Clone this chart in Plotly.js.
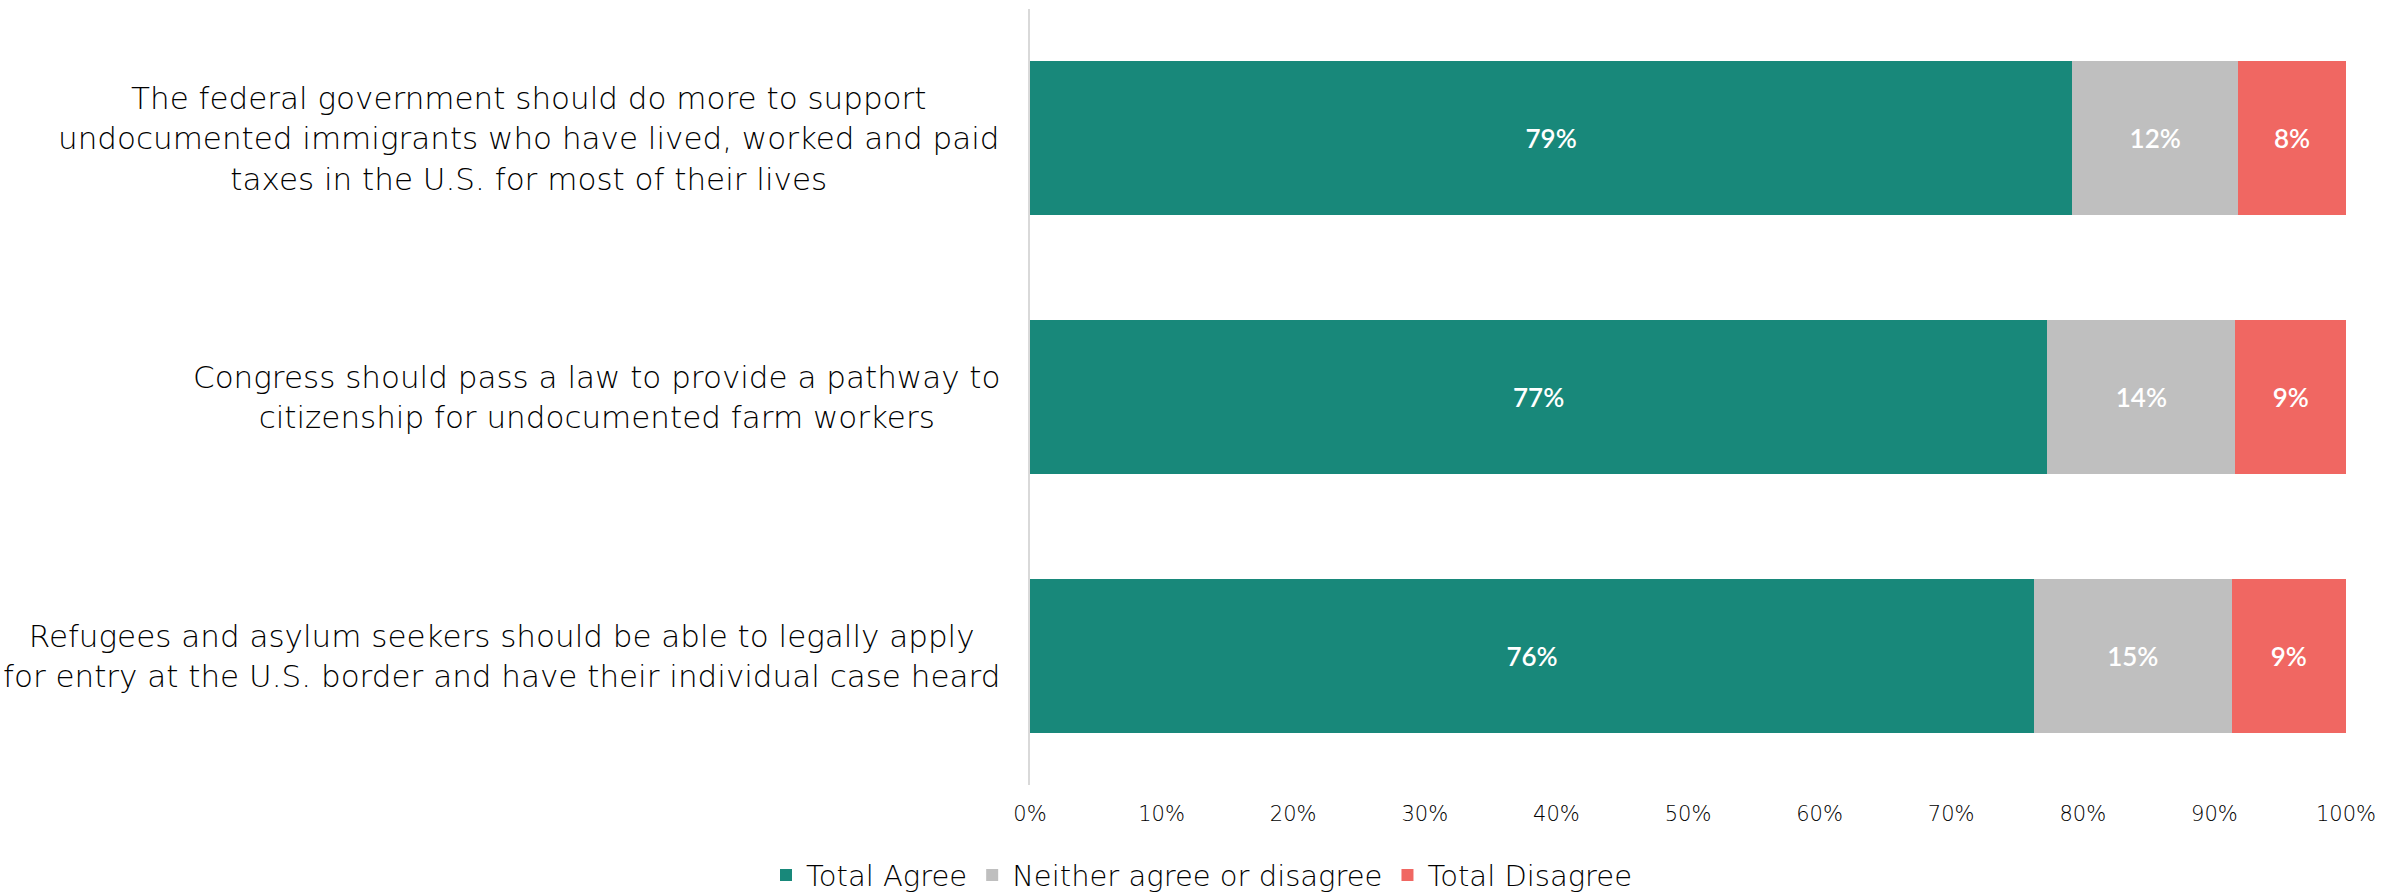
<!DOCTYPE html>
<html>
<head>
<meta charset="utf-8">
<script src="https://cdn.plot.ly/plotly-3.0.1.min.js"></script>
<style>
html,body{margin:0;padding:0;background:#fff;}
#chart{width:2404px;height:893px;}
</style>
</head>
<body>
<div id="chart"></div>
<script>
const categories = [
  "The federal government should do more to support<br>undocumented immigrants who have lived, worked and paid<br>taxes in the U.S. for most of their lives",
  "Congress should pass a law to provide a pathway to<br>citizenship for undocumented farm workers",
  "Refugees and asylum seekers should be able to legally apply<br>for entry at the U.S. border and have their individual case heard"
];
const seriesNames = ["Total Agree", "Neither agree or disagree", "Total Disagree"];
const agree = [79.2, 77.3, 76.3];
const neither = [12.6, 14.3, 15.0];
const disagree = [8.2, 8.4, 8.7];
const agreeLabels = ["79%", "77%", "76%"];
const neitherLabels = ["12%", "14%", "15%"];
const disagreeLabels = ["8%", "9%", "9%"];
const xTickVals = [0,10,20,30,40,50,60,70,80,90,100];
const xTickText = ["0%","10%","20%","30%","40%","50%","60%","70%","80%","90%","100%"];

const colors = ["#18887A", "#BFBFBF", "#F06762"];
const values = [agree, neither, disagree];
const labels = [agreeLabels, neitherLabels, disagreeLabels];
const textFamily = "'DejaVu Sans', 'Liberation Sans', sans-serif";

const traces = seriesNames.map((name, i) => ({
  type: "bar",
  orientation: "h",
  name: name,
  y: categories,
  x: values[i],
  text: labels[i],
  textposition: "inside",
  insidetextanchor: "middle",
  constraintext: "none",
  textfont: {family: "Lato, 'Open Sans', sans-serif", size: 26, color: "#FFFFFF", weight: 600},
  marker: {color: colors[i]},
  hoverinfo: "skip"
}));

const annotations = categories.map(c => ({
  xref: "paper", yref: "y",
  x: 0, y: c,
  xanchor: "right", yanchor: "middle",
  xshift: -28,
  align: "center",
  text: c,
  showarrow: false,
  font: {family: textFamily, size: 31, color: "#000000", weight: 200}
}));

const layout = {
  width: 2404, height: 893,
  paper_bgcolor: "#FFFFFF", plot_bgcolor: "#FFFFFF",
  margin: {l: 1029.5, r: 58, t: 8.5, b: 107.5},
  barmode: "stack",
  bargap: 0.405,
  font: {family: textFamily, color: "#000000"},
  xaxis: {
    range: [0, 100],
    tickvals: xTickVals,
    ticktext: xTickText,
    showgrid: false, zeroline: false, showline: false,
    ticks: "",
    ticklabelstandoff: 14,
    tickfont: {family: textFamily, size: 21, color: "#000000", weight: 200},
    fixedrange: true
  },
  yaxis: {
    type: "category",
    autorange: "reversed",
    showticklabels: false,
    showgrid: false, zeroline: false,
    showline: true, linecolor: "#D9D9D9", linewidth: 2,
    ticks: "",
    fixedrange: true
  },
  showlegend: true,
  legend: {
    orientation: "h",
    xref: "container", yref: "container",
    x: 0.5, xanchor: "center",
    y: 0.02, yanchor: "middle",
    font: {family: textFamily, size: 29, color: "#000000", weight: 200},
    traceorder: "normal",
    itemclick: false, itemdoubleclick: false
  },
  annotations: annotations
};

Plotly.newPlot("chart", traces, layout, {displayModeBar: false, staticPlot: true});
</script>
</body>
</html>
